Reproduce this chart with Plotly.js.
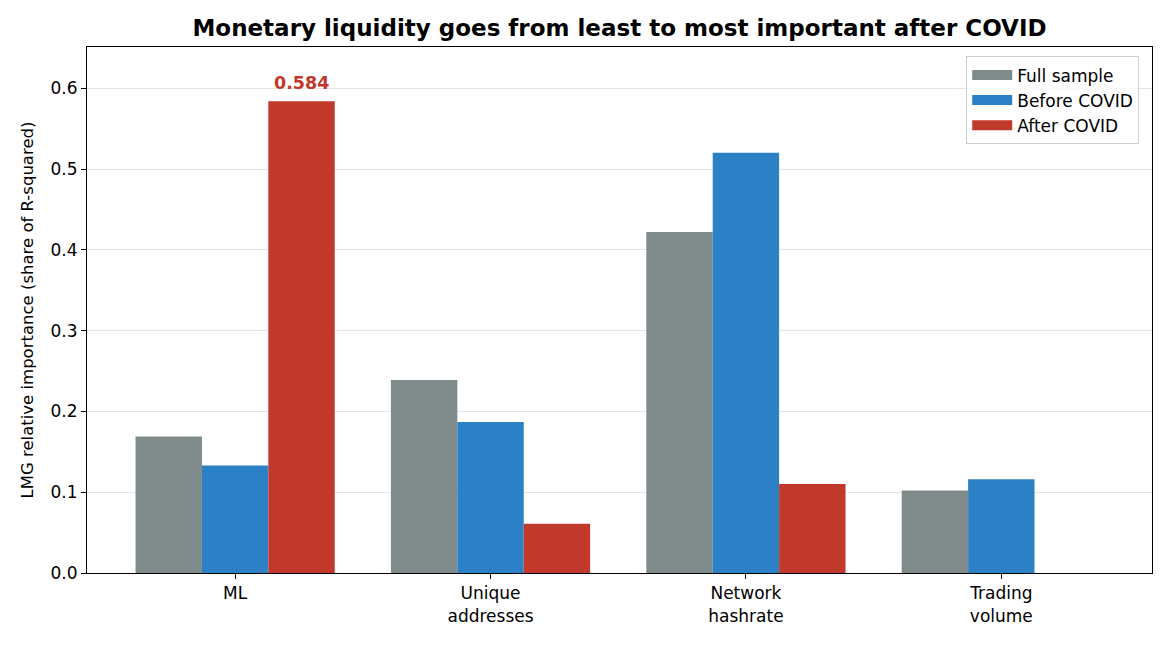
<!DOCTYPE html>
<html>
<head>
<meta charset="utf-8">
<script src="https://cdn.plot.ly/plotly-3.0.1.min.js"></script>
<style>
  html, body { margin: 0; padding: 0; background: #fff; }
  #chart { width: 1170px; height: 650px; }
</style>
</head>
<body>
<div id="chart"></div>
<script>
// LMG relative importance by predictor
const categories = ["ML", "Unique<br>addresses", "Network<br>hashrate", "Trading<br>volume"];
const fullSample = [0.169, 0.239, 0.422, 0.102];
const beforeCovid = [0.133, 0.187, 0.520, 0.116];
const afterCovid = [0.584, 0.061, 0.110, 0.0];
const seriesNames = ["Full sample", "Before COVID", "After COVID"];
const yTicks = [0.0, 0.1, 0.2, 0.3, 0.4, 0.5, 0.6];

const font = "DejaVu Sans, sans-serif";
const colors = ["#7f8b8b", "#2b80c6", "#c0392b"];
const barGap = 0.22;
const barWidth = (1 - barGap) / 3;

const peak = Math.max(...afterCovid);
const peakIdx = afterCovid.indexOf(peak);

function barTrace(i, values) {
    return {
        type: "bar",
        name: seriesNames[i],
        x: categories,
        y: values,
        marker: { color: colors[i], line: { width: 0 } },
        showlegend: false
    };
}

// legend-only entries so the keys are wide patches like the original
function legendTrace(i) {
    return {
        type: "scatter",
        mode: "lines",
        name: seriesNames[i],
        x: [null],
        y: [null],
        line: { color: colors[i], width: 13 },
        showlegend: true
    };
}

const traces = [
    barTrace(0, fullSample),
    barTrace(1, beforeCovid),
    barTrace(2, afterCovid),
    legendTrace(0), legendTrace(1), legendTrace(2)
];

const layout = {
    width: 1170,
    height: 650,
    font: { family: font, size: 16, color: "#000" },
    title: {
        text: "<b>Monetary liquidity goes from least to most important after COVID</b>",
        xref: "paper",
        x: 0.5,
        xanchor: "center",
        y: 0.957,
        yanchor: "middle",
        font: { family: font, size: 23, color: "#000" }
    },
    barmode: "group",
    bargap: barGap,
    bargroupgap: 0,
    xaxis: {
        type: "category",
        range: [-0.58, 3.59],
        showgrid: false,
        zeroline: false,
        showline: true,
        linecolor: "black",
        linewidth: 1,
        mirror: true,
        ticks: "outside",
        ticklen: 5,
        tickcolor: "black",
        tickfont: { family: font, size: 17 }
    },
    yaxis: {
        title: { text: "LMG relative importance (share of R-squared)", font: { family: font, size: 16.5 }, standoff: 12 },
        range: [0, 0.651],
        tickvals: yTicks,
        ticktext: yTicks.map(v => v.toFixed(1)),
        showgrid: true,
        gridcolor: "rgba(0,0,0,0.1)",
        gridwidth: 1,
        zeroline: false,
        showline: true,
        linecolor: "black",
        linewidth: 1,
        mirror: true,
        ticks: "outside",
        ticklen: 5,
        tickcolor: "black",
        tickfont: { family: font, size: 17 }
    },
    annotations: [{
        xref: "x",
        yref: "y",
        x: peakIdx + barWidth,
        y: peak,
        text: "<b>" + peak.toFixed(3) + "</b>",
        showarrow: false,
        xanchor: "center",
        yanchor: "bottom",
        yshift: 6,
        font: { family: font, size: 17.5, color: "#c0392b" }
    }],
    legend: {
        x: 0.988,
        y: 0.982,
        xanchor: "right",
        yanchor: "top",
        bgcolor: "rgba(255,255,255,0.8)",
        bordercolor: "#d0d0d0",
        borderwidth: 1,
        font: { family: font, size: 17 },
        itemwidth: 40,
        tracegroupgap: 0
    },
    showlegend: true,
    paper_bgcolor: "#fff",
    plot_bgcolor: "#fff",
    margin: { l: 87, r: 18, t: 47, b: 77 }
};

Plotly.newPlot("chart", traces, layout, { displayModeBar: false, staticPlot: true });
</script>
</body>
</html>
